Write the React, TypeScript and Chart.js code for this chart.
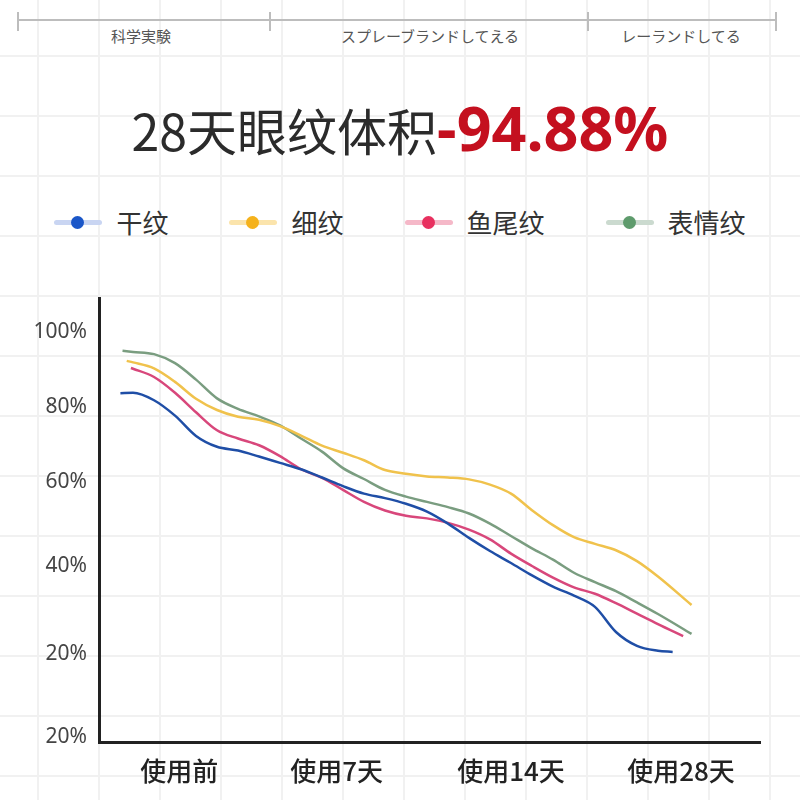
import React, { useEffect, useRef } from 'react';
import { Chart, registerables } from 'chart.js';

Chart.register(...registerables);

// header strip
const headerLabels = ['科学実験', 'スプレーブランドしてえる', 'レーランドしてる'];

// series
const seriesNames = ['干纹', '细纹', '鱼尾纹', '表情纹'];
const lineColors = ['#1f4ea6', '#f0c24c', '#d8477b', '#7a9d80'];
const legendDotColors = ['#1a56c8', '#f5b21c', '#e8305f', '#5e9b6c'];
const legendBarColors = ['#c9d5f2', '#fbe4ac', '#f5b8c8', '#cbdacf'];

// x positions (1 unit = 1/8 of the gap between two stage labels)
const gridX = [-2, -1, 0, 1, 2, 3, 4, 5, 6, 7, 8, 9, 10, 11, 12, 13, 14, 15, 16, 17, 18, 19, 20, 21, 22, 23];
const startX = [-2.6, -2.3, -2.1, -2.5];
const endX = [23.7, 24.6, 24.2, 24.6];

// values: start, gridX..., end
const dryValues = [83.7, 83.8, 81.8, 77.7, 72.3, 69.4, 68.4, 66.8, 65.1, 63.4, 61.2, 58.9, 56.9, 55.7, 54.2, 52.1, 48.9, 45.1, 41.6, 38.4, 35.1, 32.1, 29.7, 26.7, 20.0, 16.3, 15.0, 14.7];
const fineValues = [92.3, 91.9, 90.3, 86.7, 82.2, 79.2, 77.4, 76.6, 74.9, 72.4, 69.7, 67.8, 65.8, 63.2, 62.2, 61.5, 61.2, 60.7, 59.3, 56.9, 52.5, 48.5, 45.3, 43.5, 41.8, 38.9, 34.8, 27.2];
const crowValues = [90.4, 90.2, 88.0, 83.8, 78.6, 73.8, 71.6, 69.8, 66.9, 63.4, 61.1, 57.9, 54.7, 52.4, 51.0, 50.3, 49.1, 47.3, 44.7, 40.9, 37.6, 34.5, 31.9, 30.2, 27.7, 24.9, 22.1, 18.9];
const expressionValues = [95.0, 94.7, 94.1, 91.7, 87.3, 82.3, 79.5, 77.5, 75.1, 71.6, 68.1, 63.7, 60.8, 57.9, 56.1, 54.7, 53.3, 51.6, 48.9, 45.6, 42.3, 39.3, 35.8, 33.3, 30.9, 27.9, 24.8, 19.5];
const seriesValues = [dryValues, fineValues, crowValues, expressionValues];

// axes
const xTickValues = [0.2, 7.7, 16, 24.1];
const xTickLabels = ['使用前', '使用7天', '使用14天', '使用28天'];
const yTickValues = [100, 80, 60, 37.6, 14.1, -8];
const yTickLabels = ['100%', '80%', '60%', '40%', '20%', '20%'];

const CJK = '"Noto Sans CJK SC", "Noto Sans", sans-serif';

const WrinkleChart: React.FC = () => {
  const canvasRef = useRef<HTMLCanvasElement>(null);
  const chartRef = useRef<Chart | null>(null);

  useEffect(() => {
    if (!canvasRef.current) return;
    if (chartRef.current) chartRef.current.destroy();
    const ctx = canvasRef.current.getContext('2d');
    if (!ctx) return;

    const datasets = seriesValues.map((vals, s) => {
      const xs = [startX[s], ...gridX, endX[s]];
      return {
        label: seriesNames[s],
        data: vals.map((v, i) => ({ x: xs[i], y: v })),
        borderColor: lineColors[s],
        borderWidth: 2.5,
        pointRadius: 0,
        tension: 0.4,
        cubicInterpolationMode: 'monotone' as const,
        fill: false
      };
    });

    chartRef.current = new Chart(ctx, {
      type: 'line',
      data: { datasets },
      options: {
        animation: false,
        responsive: true,
        maintainAspectRatio: false,
        layout: { padding: { top: 18, right: 40, left: 0, bottom: 0 } },
        plugins: { legend: { display: false }, tooltip: { enabled: false } },
        scales: {
          x: {
            type: 'linear',
            min: -3.62,
            max: 27.86,
            grid: { display: false, drawTicks: false },
            border: { display: true, color: '#222', width: 3 },
            afterFit: (scale: any) => {
              scale.height = 58;
              scale.paddingLeft = 0;
              scale.paddingRight = 0;
            },
            afterBuildTicks: (scale: any) => { scale.ticks = xTickValues.map(v => ({ value: v })); },
            ticks: {
              autoSkip: false,
              maxRotation: 0,
              padding: 14,
              color: '#222',
              font: { family: CJK, size: 26, weight: 500 },
              callback: (_v: any, i: number) => xTickLabels[i]
            }
          },
          y: {
            type: 'linear',
            min: -9.33,
            max: 109.07,
            grid: { display: false, drawTicks: false },
            border: { display: true, color: '#222', width: 3 },
            afterFit: (scale: any) => {
              scale.width = 99;
              scale.paddingTop = 0;
              scale.paddingBottom = 0;
            },
            afterBuildTicks: (scale: any) => { scale.ticks = yTickValues.map(v => ({ value: v })); },
            ticks: {
              autoSkip: false,
              padding: 12,
              color: '#444',
              font: { family: '"Noto Sans", sans-serif', size: 21 },
              callback: (_v: any, i: number) => yTickLabels[i]
            }
          }
        }
      }
    });

    return () => {
      if (chartRef.current) {
        chartRef.current.destroy();
        chartRef.current = null;
      }
    };
  }, []);

  return (
    <div style={{ position: 'absolute', left: 0, top: 280, width: 800, height: 520 }}>
      <canvas ref={canvasRef} />
    </div>
  );
};

const headerCenters = [141, 430, 681];
const headerTicks = [18, 270, 588, 776];

export default function App() {
  return (
    <div
      style={{
        position: 'absolute',
        left: 0,
        top: 0,
        width: 800,
        height: 800,
        overflow: 'hidden',
        backgroundColor: '#fff',
        backgroundImage:
          'linear-gradient(to right, #f1f1f1 2px, transparent 2px), linear-gradient(to bottom, #f1f1f1 2px, transparent 2px)',
        backgroundSize: '61px 60px',
        backgroundPosition: '37px 55px',
        fontFamily: CJK
      }}
    >
      {/* header ruler */}
      <div style={{ position: 'absolute', left: 18, top: 19, width: 758, height: 1.5, background: '#bdbdbd' }} />
      {headerTicks.map(x => (
        <div key={x} style={{ position: 'absolute', left: x - 0.75, top: 12, width: 1.5, height: 19, background: '#bdbdbd' }} />
      ))}
      {headerLabels.map((t, i) => (
        <div
          key={t}
          style={{
            position: 'absolute',
            left: headerCenters[i] - 150,
            width: 300,
            top: 26,
            height: 20,
            lineHeight: '20px',
            textAlign: 'center',
            fontSize: 15,
            color: '#555',
            fontFamily: '"Noto Sans CJK JP", serif'
          }}
        >
          {t}
        </div>
      ))}

      {/* title */}
      <div
        style={{
          position: 'absolute',
          left: 0,
          width: 800,
          top: 96,
          height: 64,
          lineHeight: '64px',
          textAlign: 'center',
          whiteSpace: 'nowrap'
        }}
      >
        <span style={{ fontSize: 50, color: '#2b2b2b' }}>28天眼纹体积</span>
        <span style={{ fontSize: 61, color: '#c4101f', fontWeight: 700, fontFamily: '"Noto Sans", sans-serif' }}>-94.88%</span>
      </div>

      {/* legend */}
      <div
        style={{
          position: 'absolute',
          left: 0,
          width: 800,
          top: 202,
          height: 40,
          display: 'flex',
          justifyContent: 'center',
          alignItems: 'center',
          gap: 61
        }}
      >
        {seriesNames.map((n, i) => (
          <div key={n} style={{ display: 'flex', alignItems: 'center' }}>
            <div style={{ position: 'relative', width: 48, height: 5, borderRadius: 3, background: legendBarColors[i] }}>
              <div
                style={{
                  position: 'absolute',
                  left: 17,
                  top: -4,
                  width: 13,
                  height: 13,
                  borderRadius: '50%',
                  background: legendDotColors[i]
                }}
              />
            </div>
            <span style={{ marginLeft: 14, fontSize: 26, color: '#333', lineHeight: '40px' }}>{n}</span>
          </div>
        ))}
      </div>

      <WrinkleChart />
    </div>
  );
}
